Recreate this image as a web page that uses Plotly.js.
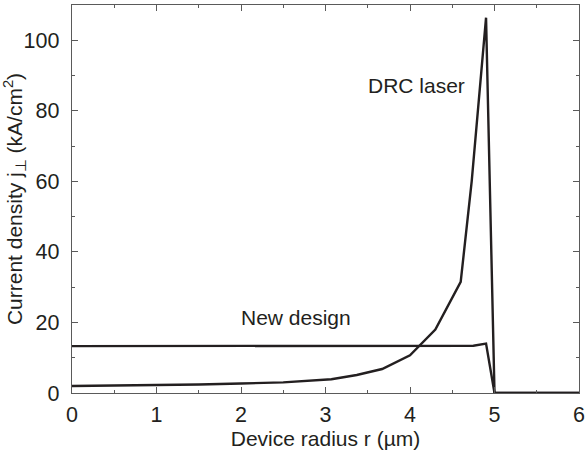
<!DOCTYPE html>
<html>
<head>
<meta charset="utf-8">
<script src="https://cdn.plot.ly/plotly-3.0.1.min.js"></script>
<style>html,body{margin:0;padding:0;background:#fff;}#chart{width:587px;height:454px;}</style>
</head>
<body>
<div id="chart"></div>
<script>
// DRC laser
const drcR = [0, 1, 1.5, 2, 2.5, 3.07, 3.37, 3.67, 4.0, 4.3, 4.6, 4.73, 4.9, 5.0, 6.0];
const drcJ = [2.0, 2.2, 2.4, 2.7, 3.0, 3.9, 5.1, 6.8, 10.7, 18.0, 31.5, 60.0, 106.4, 0, 0];
// New design
const newR = [0, 4.75, 4.9, 5.0, 6.0];
const newJ = [13.3, 13.4, 14.0, 0, 0];
const xTicks = [0, 1, 2, 3, 4, 5, 6];
const yTicks = [0, 20, 40, 60, 80, 100];

const lineStyle = {color: '#231f20', width: 2.4};
const traces = [
  {x: drcR, y: drcJ, mode: 'lines', line: lineStyle, name: 'DRC laser', hoverinfo: 'none'},
  {x: newR, y: newJ, mode: 'lines', line: lineStyle, name: 'New design', hoverinfo: 'none'}
];
const fam = 'Liberation Sans, Arial, Helvetica, sans-serif';
const txt = '#231f20';
const axisCommon = {
  showgrid: false, zeroline: false, showline: true, linecolor: '#5a5a5a', linewidth: 1.3,
  mirror: 'ticks', ticks: 'inside', ticklen: 6, tickcolor: '#5a5a5a', tickwidth: 1,
  tickfont: {size: 21.5, family: fam, color: txt}
};
const layout = {
  width: 587, height: 454,
  margin: {l: 72, r: 8, t: 5, b: 61},
  paper_bgcolor: '#fff', plot_bgcolor: '#fff',
  showlegend: false,
  font: {family: fam, color: txt, size: 18},
  xaxis: Object.assign({}, axisCommon, {
    range: [0, 6], tickvals: xTicks, ticktext: xTicks.map(String),
    ticklabelstandoff: 2,
    minor: {dtick: 0.5, ticks: 'inside', ticklen: 3, tickcolor: '#5a5a5a', tickwidth: 1},
    title: {text: 'Device radius r (µm)', font: {size: 21, family: fam, color: txt}, standoff: 2}
  }),
  yaxis: Object.assign({}, axisCommon, {
    range: [0, 110], tickvals: yTicks, ticktext: yTicks.map(String),
    ticklabelstandoff: 7,
    minor: {dtick: 10, ticks: 'inside', ticklen: 3, tickcolor: '#5a5a5a', tickwidth: 1},
    title: {text: 'Current density j<sub>⊥</sub> (kA/cm<sup>2</sup>)', font: {size: 21, family: fam, color: txt}, standoff: 4}
  }),
  annotations: [
    {x: 4.077, y: 87.3, xref: 'x', yref: 'y', text: 'DRC laser', showarrow: false, font: {size: 21, family: fam, color: txt}},
    {x: 2.65, y: 21.3, xref: 'x', yref: 'y', text: 'New design', showarrow: false, font: {size: 21, family: fam, color: txt}}
  ]
};
Plotly.newPlot('chart', traces, layout, {displayModeBar: false, staticPlot: true});
</script>
</body>
</html>
